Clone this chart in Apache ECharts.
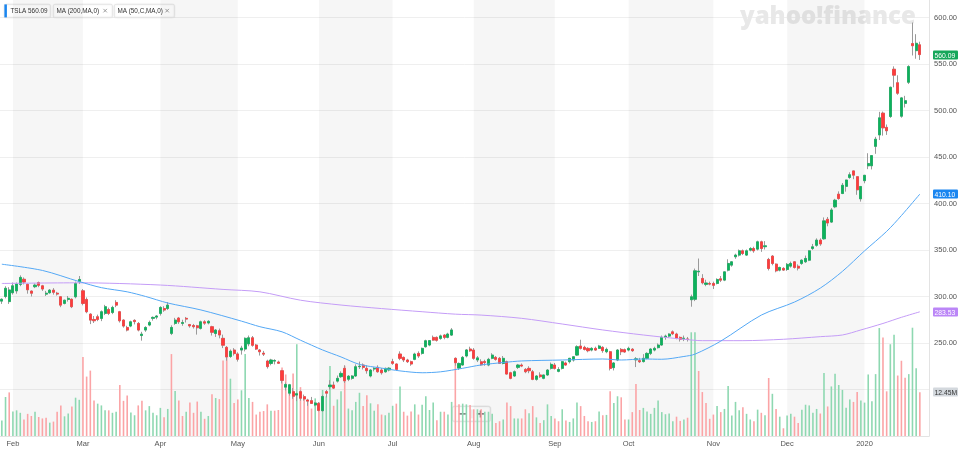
<!DOCTYPE html>
<html><head><meta charset="utf-8">
<script src="https://cdn.jsdelivr.net/npm/echarts@6/dist/echarts.min.js"></script>
<style>html,body{margin:0;padding:0;background:#fff}#c{width:960px;height:450px}</style>
</head><body><div id="c"></div>
<script>
// Trading days shown (Jan 29 2019 - Jan 24 2020)
const tradingDays = {
 '2019-01': [29,30,31],
 '2019-02': [1,4,5,6,7,8,11,12,13,14,15,19,20,21,22,25,26,27,28],
 '2019-03': [1,4,5,6,7,8,11,12,13,14,15,18,19,20,21,22,25,26,27,28,29],
 '2019-04': [1,2,3,4,5,8,9,10,11,12,15,16,17,18,22,23,24,25,26,29,30],
 '2019-05': [1,2,3,6,7,8,9,10,13,14,15,16,17,20,21,22,23,24,28,29,30,31],
 '2019-06': [3,4,5,6,7,10,11,12,13,14,17,18,19,20,21,24,25,26,27,28],
 '2019-07': [1,2,3,5,8,9,10,11,12,15,16,17,18,19,22,23,24,25,26,29,30,31],
 '2019-08': [1,2,5,6,7,8,9,12,13,14,15,16,19,20,21,22,23,26,27,28,29,30],
 '2019-09': [3,4,5,6,9,10,11,12,13,16,17,18,19,20,23,24,25,26,27,30],
 '2019-10': [1,2,3,4,7,8,9,10,11,14,15,16,17,18,21,22,23,24,25,28,29,30,31],
 '2019-11': [1,4,5,6,7,8,11,12,13,14,15,18,19,20,21,22,25,26,27,29],
 '2019-12': [2,3,4,5,6,9,10,11,12,13,16,17,18,19,20,23,24,26,27,30,31],
 '2020-01': [2,3,6,7,8,9,10,13,14,15,16,17,21,22,23,24]
};
const monthNames = ['Jan','Feb','Mar','Apr','May','Jun','Jul','Aug','Sep','Oct','Nov','Dec'];

const open = [
 295,300,294.5,
 304,306,313,318.5,313,305.8,310.5,315,311.5,302.5,304,306.8,303.5,299.7,292.5,296.8,297,299.7,315.8,
 306.1,296.8,281,275.3,278.2,276.4,281.8,286,282.8,293.6,283.6,274.6,266.7,268.2,274.3,271,258,263.9,269.3,276.5,277.8,
 281.8,287.1,287.1,260.3,271,276.8,271,276.5,269.8,268.8,268.5,265.7,272.8,271.5,267.5,260.2,263.2,255,245.3,235.5,242.4,
 238.2,242.4,243.5,249,255.6,247.8,242.4,239,230.6,228,230.5,229.5,220.2,202.5,196,197.7,194,197.7,192.3,188.7,188,183.3,
 185,177.2,197.7,203,204.8,209,213.8,222.7,211,212,214.5,224.5,226.3,222.7,214.5,222,223.8,220.9,219,221,
 229.9,227.4,238.1,234.5,231.7,229.9,232.4,238.8,238.8,246,247.8,256,256,254.9,258.5,256,258.5,233.5,223,226.3,236,243.5,
 242.4,231.7,229.8,230,226.3,233.5,234.5,233.5,228,229.9,218,214.5,223.8,226.3,221.6,222.7,219.1,210.9,215.6,212,215.6,222.7,
 226.3,219.5,222.7,228.5,229.9,231.7,237,246.7,245.3,244.2,242.4,244.2,244.2,245.3,240.6,240.6,223.5,231.7,243.1,242.8,
 242.4,243.3,231.9,231,230,233.5,238.8,242.4,245,247.8,256,257.4,262,259.6,256,254.5,254.3,296.5,297,326.5,319.4,313,314,
 314,314,319,317.6,328.3,333.7,342.7,344.5,349.1,344.5,349.8,351.6,350.9,358.8,353.5,339.8,343.4,334.8,328.3,330.2,
 329,332.6,337.3,332.5,335.5,337.3,339,351.6,355,360.6,362,383,380,396.4,410,410.7,418.4,427.9,435,428.8,405,
 424.5,440.5,440.5,461.4,473.7,497.1,481.8,493.5,544.3,529.8,493.8,507.6,530.3,571.9,564.3,570.6
];
const high = [
 298,311,310,
 315,315,322.7,320.5,314,306.5,314,316,312.5,306,308,309,305,300.5,296.5,300.5,298,316,322,
 308,299,282,279,280.5,285,291,288,290,296,284.5,275.5,268.5,274,275.5,272.5,262,268,274,278.5,280,
 289.5,289.5,294,269,277,278,275,278,270.5,270.5,269.5,274,274.5,274.5,268.5,265,265.5,259,246.7,243,244.5,
 240,247,256,258,257.5,249,243.5,241.5,232,233,232.5,231,221,207.5,206,201.5,196.5,199,194.5,190,192,186.5,
 186.5,194,199.5,210,208.5,215,219.5,226,215.5,215.5,227,230,228,226,222,224,226,223,223.5,224,
 233,228,241,235.5,233,231,239.5,241,245,253.5,253,258,257,259,259.5,261,266,234.5,229,236,243.5,246,
 244.5,236,232.5,232,234,239,236,235,236,231,219,220.5,227.5,228,223,225,221,215.5,218.5,216,222,229,
 228.5,224,230.5,230,234,236,247.5,253.5,247,245.5,245.5,246,248,246.5,245,241.5,229.5,243.5,244.5,244,
 246,244.5,234.8,234,238,240,244.5,246,249.5,258,259,260.5,263.5,261,257,258,256.5,302,330,340.8,324,318,316,
 316,319.5,322,327,340,338,346,350.5,350.5,350.5,353,353.5,360,360,359.5,341.5,344.5,335.5,332,331.5,
 336,337.5,338,334.5,340,344,350,356.5,362.5,362.5,385,385.5,395,405,413,422,425.5,433.5,435.3,429,418.7,
 430.7,454,451.6,471.6,498.5,498.8,484.9,525.6,547.4,537.8,514.5,515.7,548.6,594.5,582,573.9
];
const low = [
 292,298,292,
 302,303,311,313,303,300,309,310,306,300.5,303,302,301,288.5,291.5,294.5,287.5,298,313.5,
 290.5,282,270.3,271.5,273.5,273.5,280,280,281,288.5,272,266.5,262.5,267,270,262.5,252.5,262,268,274,275.5,
 279.5,283.5,285.5,258.5,269.5,270.5,268.5,272,266.5,265.5,259,264.5,269.5,270,258,256.5,255,244.5,231,234,236.5,
 230,237.5,241,246.5,246,242.5,236.5,236,222.5,226,227,227.5,206.5,199,193.5,190,187.5,188,188,182.5,184.5,182,
 176.5,176,191.5,200,200.5,207.5,212.5,207,209,210.5,213.5,222,221.5,217,213,219.5,218,216,218,219.5,
 226.5,220,231.5,229.5,228.5,225.5,231.5,234,237.5,245,246.5,252.5,251.5,253.5,254,255,257.5,225.6,221,225.5,234.5,240.5,
 232,229.5,225.5,225.5,225,232.5,231,227.5,227,216,211,213.5,222,224,217.5,217.5,210,209.5,212.5,211,214.5,221.5,
 221.5,218.5,221.5,225.5,228,230,236,243,242,240,241,241.5,243.5,239.5,239,220.5,220.5,230.5,237,239.5,
 241,240.5,224.1,228.5,229,232.5,237,241,244,247,253.5,255.5,258.5,254,251.5,252,251.5,289,295,322,313,311,312,
 308,313,315.5,316.5,327,332,340.5,343,344.5,343.5,348.5,347,349.5,348,350.5,328,333.5,326,327,327.5,
 327.5,331,330,328,334,336,338,350,353.5,354.5,361,375.5,379,395,404,410,412.7,426.5,426.1,409.3,402,
 421.7,436.9,436.6,453.4,468.2,472.9,473.7,492,524.9,516.8,492.2,503.2,528.4,559.1,555.6,554.3
];
const close = [
 297,308.8,307,
 311.5,313.5,320.5,315.5,307.2,303.5,312.2,312,308,303.5,306.8,304.5,302.6,290.7,296,298,289,314,318.3,
 292.5,283.6,274.6,273.9,275.3,283.6,289,281.8,288.2,290.7,273.9,268.2,263.9,272.8,273,263.9,259.5,266.7,272.1,277.5,279,
 288.2,285.4,290.7,266.7,274.6,272.8,272,275.7,268.4,267.5,266.4,272.8,271.3,273.3,261.5,263.9,258.6,247.6,235,241.2,238.6,
 232.5,244.5,255,255.6,247.5,243.5,240.6,238,224.6,231.7,231.2,228.2,209.8,205.4,205.1,192.7,195.5,190.6,189.8,187.5,185,185.5,
 177.5,192.5,196,204.8,201.5,212,217.3,209.3,214.3,214.5,224.5,225,223.8,220.2,220.9,222.7,219.1,218,222.7,222.9,
 228.1,221.6,233.5,231.7,229.9,227.4,238.1,236,244.2,252.4,252.6,253.1,252.9,257.6,256,259.6,264,228.8,228,234.5,242.5,241.6,
 233.5,234,226.5,229,232.4,237,232.4,228.1,233.5,216.6,212,219.1,226.3,225.2,219.1,220.2,210.9,214.5,213.8,215.6,220.9,227,
 222.7,221.5,229.9,226.3,233.5,235.2,246,244.2,243.1,241.7,244.2,242.4,246.7,241.8,243.1,222.7,228.5,242.4,240.6,240.3,
 244.2,241.7,233,229.8,233.5,238.8,243.5,244.2,247.8,256,257.4,259.6,259.9,255,253.9,255.2,253.9,299.7,327.6,327.2,314.7,314.5,313.3,
 312,318.3,317.5,326.5,335.5,337.3,344.5,349.1,346.2,349.1,351.6,349.1,358.8,351.6,354.5,330.1,335.5,327.6,331.2,328.4,
 334.5,335.5,331.2,330.5,339,340.9,349.1,353.4,360.6,356.5,381.3,379,393,403.5,405.3,419.6,425.2,430.9,430.4,414.7,418.3,
 430.3,443,451.5,469.1,492.1,481.3,478.2,524.9,537.9,518.5,513.5,510.5,547.2,569.6,572.2,560.09
];
// volume in millions of shares
const volume = [
 4.4,11.1,12.4,
 7.0,7.3,6.6,4.7,6.3,5.7,6.9,5.4,5.0,5.2,3.8,4.1,6.9,8.7,5.6,6.4,8.4,10.9,10.3,
 22.5,16.9,18.6,10.1,9.2,8.7,7.3,7.3,6.6,6.9,14.5,10.0,11.5,6.7,5.9,8.7,10.0,7.3,8.5,6.6,5.9,
 8.0,5.3,7.7,23.3,12.8,10.1,5.7,6.9,9.5,6.6,9.8,6.9,4.9,5.7,11.9,10.8,10.5,21.5,22.5,16.3,9.4,
 10.4,13.0,23.3,10.8,9.7,6.1,6.9,7.1,9.0,7.2,7.2,7.4,19.5,17.5,12.5,17.8,26.1,13.9,11.0,10.4,7.8,10.7,
 9.7,13.1,11.3,19.9,8.6,10.4,12.7,20.0,7.8,7.3,9.7,12.3,8.5,11.6,9.3,7.2,9.0,6.1,5.9,6.6,
 8.6,9.2,14.1,6.9,5.8,7.0,9.0,6.1,8.9,11.3,7.4,9.5,4.5,6.9,6.9,6.1,9.7,22.2,9.0,9.2,9.0,8.8,
 7.6,7.6,7.6,6.9,6.9,6.3,3.7,4.2,4.7,9.5,8.5,5.0,5.0,5.0,7.6,6.5,8.5,5.3,3.7,4.5,9.0,5.7,
 5.0,4.2,7.6,4.4,4.0,5.0,9.5,8.5,5.7,4.2,4.0,4.2,7.0,5.9,6.0,12.7,9.4,11.3,11.0,4.7,
 4.7,6.8,14.8,7.4,8.0,7.0,6.3,8.0,10.1,6.8,6.2,6.4,4.2,5.5,4.3,4.7,5.2,29.5,29.5,18.5,12.5,9.4,4.9,
 6.1,8.5,6.8,7.7,14.2,5.8,9.7,7.3,8.2,6.3,4.7,4.2,7.5,6.6,5.9,16.5,12.0,7.7,5.5,2.2,
 5.8,6.3,5.5,3.7,7.5,8.9,8.7,6.6,7.7,6.4,17.9,8.4,14.1,17.7,14.5,13.1,8.0,10.4,9.7,12.5,10.1,
 9.5,17.5,9.9,17.6,30.7,28.0,12.7,26.1,28.8,17.2,21.4,16.6,17.6,30.8,19.3,12.45
];
// moving averages: [day index, value]
const ma50Points = [
 [0,334.7],[11,328],[21,316],[27,309.5],[34,305],[39,300],[45,293],[54,285.5],[65,273.5],[70,267.5],
 [76,262],[81,253],[87,242.5],[92,235],[97,227],[103,223],[108,220],[114,218],[119,219],[125,222.8],
 [130,226.4],[136,229],[141,230.7],[152,231.7],[163,232.8],[168,231.7],[174,232.8],[179,232.5],[185,235.5],
 [188,238],[195,252],[206,280],[215,294],[222,309],[228,327],[234,349],[240,370],[244,387],[249,410.1]
];
const ma200Points = [
 [0,314],[21,314.7],[43,312.3],[60,307.6],[70,305],[81,296],[92,290.8],[103,287],[114,283.6],[123,281],
 [130,280],[141,276.5],[152,270.4],[163,264],[174,258.6],[185,254],[190,252.5],[201,252.5],[212,254],
 [222,256.8],[228,258.6],[233,264],[239,271],[244,277.6],[249,283.53]
];
const priceTicks = [250,300,350,400,450,500,550,600];
const lastPrice = 560.09, lastMA50 = 410.10, lastMA200 = 283.53, lastVolume = 12.45;

// ---- build ----
const cats = [];
Object.keys(tradingDays).forEach(m => tradingDays[m].forEach(d => cats.push(m + '-' + String(d).padStart(2,'0'))));
const axisCats = cats.concat(['pad1','pad2']);
const monthStart = new Set();
for (let i = 1; i < cats.length; i++) if (cats[i].slice(0,7) !== cats[i-1].slice(0,7)) monthStart.add(i);
const starts = [...monthStart];
const bandsData = [];
starts.forEach((s, k) => {
  const m = +cats[s].slice(5,7);
  if (m % 2 === 0 && k + 1 < starts.length) bandsData.push([{xAxis: cats[s]}, {xAxis: cats[starts[k+1]]}]);
});

const UP = '#0bb25c', DN = '#ff3b3b';
const wickData = cats.map((c,i) => [open[i], close[i], low[i], high[i]]);
const bodyData = cats.map((c,i) => [open[i], close[i], Math.min(open[i],close[i]), Math.max(open[i],close[i])]);
const volData = cats.map((c,i) => {
  const up = i === 0 ? close[i] >= open[i] : close[i] >= close[i-1];
  return {value: volume[i], itemStyle: {color: up ? '#8ed8b1' : '#fba4a6'}};
});

const chart = echarts.init(document.getElementById('c'));
const F = '"Liberation Sans", Arial, sans-serif';
const chip = (left, w, label, withX) => ({type: 'group', left: left, top: 4, z: 100, children: [
  {type: 'rect', shape: {x: 0, y: 0, width: w, height: 13, r: 1.5}, style: {fill: '#fff', stroke: '#e6e6e6', lineWidth: 0.8, shadowBlur: 2, shadowColor: 'rgba(0,0,0,0.10)'}},
  {type: 'text', x: withX ? 3 : 6, y: 3, scaleX: 0.86, style: {text: label, font: '7.4px ' + F, fill: '#333'}}
].concat(withX ? [
  {type: 'line', shape: {x1: w - 9, y1: 4.5, x2: w - 5.5, y2: 8}, style: {stroke: '#888', lineWidth: 0.8}},
  {type: 'line', shape: {x1: w - 5.5, y1: 4.5, x2: w - 9, y2: 8}, style: {stroke: '#888', lineWidth: 0.8}}
] : [{type: 'rect', shape: {x: 0, y: 0, width: 2.5, height: 13}, style: {fill: '#1a86f0'}}])});

chart.setOption({
  animation: false,
  textStyle: {fontFamily: F},
  grid: {left: 0, right: 28, top: 0, bottom: 14},
  xAxis: {
    type: 'category', data: axisCats, boundaryGap: true,
    axisTick: {show: false},
    axisLine: {lineStyle: {color: '#e3e3e3'}},
    splitLine: {show: false},
    axisLabel: {
      interval: (i) => monthStart.has(i), margin: 4, fontSize: 7.5, color: '#555',
      formatter: (v) => { const m = +v.slice(5,7); return m === 1 ? v.slice(0,4) : monthNames[m-1]; }
    }
  },
  yAxis: [
    {type: 'value', position: 'right', min: 150, max: 618.75, interval: 50,
     axisLine: {show: true, lineStyle: {color: '#e3e3e3'}}, axisTick: {show: false},
     splitLine: {show: true, showMaxLine: false, lineStyle: {color: '#efefef'}},
     axisLabel: {margin: 5, fontSize: 7.5, color: '#555', showMaxLabel: false,
       formatter: (v) => priceTicks.indexOf(v) >= 0 ? v.toFixed(2) : ''}},
    {type: 'value', position: 'right', min: 0, max: 124, show: false}
  ],
  series: [
    {name: 'bands', type: 'line', data: cats.map(() => null), z: 1, silent: true, showSymbol: false,
     markArea: {silent: true, itemStyle: {color: 'rgba(0,0,0,0.037)'}, data: bandsData}},
    {name: 'Volume', type: 'bar', xAxisIndex: 0, yAxisIndex: 1, data: volData, barWidth: 1.6, z: 2},
    {name: 'wick', type: 'candlestick', data: wickData, barWidth: 2.6, z: 3,
     itemStyle: {color: 'transparent', color0: 'transparent', borderColor: '#9a9a9a', borderColor0: '#9a9a9a', borderWidth: 1}},
    {name: 'TSLA', type: 'candlestick', data: bodyData, barWidth: 2.6, z: 4,
     itemStyle: {color: UP, color0: DN, borderColor: UP, borderColor0: DN, borderWidth: 0.6}},
    {name: 'MA200', type: 'line', data: ma200Points, showSymbol: false, smooth: 0.3, z: 5,
     lineStyle: {color: '#c49cf7', width: 1}},
    {name: 'MA50', type: 'line', data: ma50Points, showSymbol: false, smooth: 0.3, z: 5,
     lineStyle: {color: '#54a8f5', width: 1}}
  ],
  graphic: [
    {type: 'text', left: 740, top: 5, z: 0, silent: true,
     style: {text: 'yahoo!finance', font: '800 24px "Open Sans"', fill: '#e8e8e8'}},
    chip(4, 46, 'TSLA 560.09', false),
    chip(53, 59, 'MA (200,MA,0)', true),
    chip(114, 60, 'MA (50,C,MA,0)', true),
    {type: 'group', left: 452, top: 406, z: 100, children: [
      {type: 'rect', shape: {x: 0, y: 0, width: 38, height: 15, r: 2}, style: {fill: '#fff', stroke: '#e0e0e0', lineWidth: 0.8, shadowBlur: 2, shadowColor: 'rgba(0,0,0,0.12)'}},
      {type: 'line', shape: {x1: 6.5, y1: 7.5, x2: 13.5, y2: 7.5}, style: {stroke: '#555', lineWidth: 1.2}},
      {type: 'line', shape: {x1: 19.5, y1: 3, x2: 19.5, y2: 12}, style: {stroke: '#d8d8d8', lineWidth: 0.8}},
      {type: 'line', shape: {x1: 24.5, y1: 7.5, x2: 31.5, y2: 7.5}, style: {stroke: '#555', lineWidth: 1.2}},
      {type: 'line', shape: {x1: 28, y1: 4, x2: 28, y2: 11}, style: {stroke: '#555', lineWidth: 1.2}}
    ]}
  ]
});

// value tags on the right axis, placed through the axes' own scales
const tags = [
  {axis: 0, val: lastPrice, text: lastPrice.toFixed(2), bg: '#16a75b', fg: '#fff'},
  {axis: 0, val: lastMA50, text: lastMA50.toFixed(2), bg: '#1a86f0', fg: '#fff'},
  {axis: 0, val: lastMA200, text: lastMA200.toFixed(2), bg: '#bb86f7', fg: '#fff'},
  {axis: 1, val: lastVolume, text: lastVolume.toFixed(2) + 'M', bg: '#d3d8dd', fg: '#333'}
];
chart.setOption({graphic: chart.getOption().graphic[0].elements.concat(tags.map(t => {
  const y = chart.convertToPixel({yAxisIndex: t.axis}, t.val);
  return {type: 'group', x: 933, y: Math.round(y) - 4.5, z: 110, children: [
    {type: 'rect', shape: {x: 0, y: 0, width: 25, height: 9, r: 1}, style: {fill: t.bg}},
    {type: 'text', x: 1.6, y: 1.2, scaleX: 0.9, style: {text: t.text, font: '7.5px ' + F, fill: t.fg}}
  ]};
}))}, {replaceMerge: ['graphic']});
</script>
</body></html>
